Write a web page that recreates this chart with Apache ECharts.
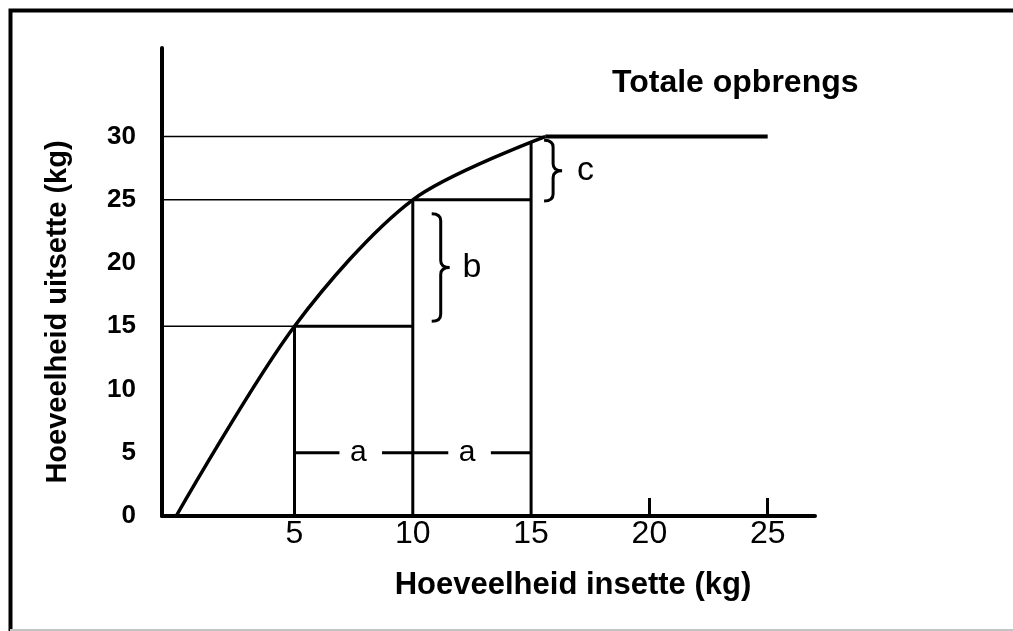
<!DOCTYPE html>
<html>
<head>
<meta charset="utf-8">
<title>Totale opbrengs</title>
<script src="https://cdn.jsdelivr.net/npm/echarts@6.0.0/dist/echarts.min.js"></script>
<style>
  html, body { margin: 0; padding: 0; background: #fff; }
  #chart { width: 1013px; height: 631px; }
</style>
</head>
<body>
<div id="chart"></div>
<script>
// total product curve: input (kg) -> output (kg)
const curveX = [0, 5, 10, 15.6]
const curveY = [0, 15, 25, 30]
const plateauX = [15.6, 25]
const plateauY = [30, 30]

// tick labels
const xTickLabels = [5, 10, 15, 20, 25]
const xTickMarks = [20, 25]
const yTickLabels = [0, 5, 10, 15, 20, 25, 30]

// thin guides from the y axis to the curve
const guideLevels = [15, 25, 30]
const guideEnds = [5, 10, 15.6]

// the steps: drops to the x axis and the shelves between them
const dropX = [5, 10, 15]
const dropTop = [15, 25, 29.6]
const shelfFrom = [5, 10]
const shelfTo = [10, 15]
const shelfLevel = [15, 25]

// equal input steps "a"
const stepLevel = 5
const stepSegFrom = [5, 8.7, 13.3]
const stepSegTo = [6.9, 11.5, 15]
const stepLabelX = [7.7, 12.3]
const stepLabels = ['a', 'a']

// output gains "b" and "c"
const braceX = [10.8, 15.55]
const braceLow = [15.4, 24.9]
const braceHigh = [23.9, 29.7]
const braceLabelX = [12.5, 17.3]
const braceLabelY = [19.6, 27.3]
const braceLabels = ['b', 'c']

const X_MIN = -0.6
const FONT = '"Liberation Sans", Arial, sans-serif'

const seg = (points, width) => ({
  type: 'line',
  data: points,
  symbol: 'none',
  silent: true,
  lineStyle: { color: '#000', width: width, cap: 'butt' }
})

const renderBrace = (params, api) => {
  const top = api.coord([api.value(0), api.value(2)])
  const bot = api.coord([api.value(0), api.value(1)])
  const x0 = top[0], y1 = top[1], y2 = bot[1]
  const w = 18, r = 7
  const xm = x0 + w / 2
  const mid = (y1 + y2) / 2
  return {
    type: 'path',
    shape: {
      pathData: `M${x0},${y1} Q${xm},${y1} ${xm},${y1 + r} L${xm},${mid - r} ` +
        `Q${xm},${mid} ${x0 + w},${mid} Q${xm},${mid} ${xm},${mid + r} ` +
        `L${xm},${y2 - r} Q${xm},${y2} ${x0},${y2}`
    },
    style: { fill: 'none', stroke: '#000', lineWidth: 3 }
  }
}

const renderLetter = (labels, size) => (params, api) => {
  const p = api.coord([api.value(0), api.value(1)])
  return {
    type: 'text',
    x: p[0],
    y: p[1],
    style: {
      text: labels[params.dataIndex],
      fontSize: size,
      fontFamily: FONT,
      fill: '#000',
      align: 'center',
      verticalAlign: 'middle'
    }
  }
}

const series = [
  Object.assign(seg(curveX.map((x, i) => [x, curveY[i]]), 3.5), { smooth: 0.3 }),
  seg(plateauX.map((x, i) => [x, plateauY[i]]), 4),
  ...guideLevels.map((y, i) => seg([[X_MIN, y], [guideEnds[i], y]], 1.5)),
  ...dropX.map((x, i) => seg([[x, 0], [x, dropTop[i]]], 3)),
  ...shelfLevel.map((y, i) => seg([[shelfFrom[i], y], [shelfTo[i], y]], 3)),
  ...stepSegFrom.map((x, i) => seg([[x, stepLevel], [stepSegTo[i], stepLevel]], 3)),
  {
    type: 'custom',
    silent: true,
    renderItem: renderBrace,
    encode: { x: 0, y: [1, 2] },
    data: braceX.map((x, i) => [x, braceLow[i], braceHigh[i]])
  },
  {
    type: 'custom',
    silent: true,
    renderItem: renderLetter(stepLabels, 30),
    data: stepLabelX.map(x => [x, stepLevel])
  },
  {
    type: 'custom',
    silent: true,
    renderItem: renderLetter(braceLabels, 34),
    data: braceLabelX.map((x, i) => [x, braceLabelY[i]])
  }
]

const chart = echarts.init(document.getElementById('chart'))
chart.setOption({
  animation: false,
  backgroundColor: '#fff',
  title: {
    text: 'Totale opbrengs',
    left: 612,
    top: 67,
    padding: 0,
    textStyle: { fontSize: 32, fontWeight: 'bold', color: '#000', fontFamily: FONT }
  },
  grid: { left: 162, right: 198, top: 48, bottom: 115, containLabel: false, outerBoundsMode: 'none' },
  xAxis: {
    type: 'value',
    min: X_MIN,
    max: 27,
    name: 'Hoeveelheid insette (kg)',
    nameLocation: 'middle',
    nameGap: 54,
    nameTextStyle: { fontSize: 31, fontWeight: 'bold', color: '#000', fontFamily: FONT, padding: [0, 0, 0, 169] },
    axisLine: { onZero: false, lineStyle: { color: '#000', width: 4 } },
    axisTick: { show: true, inside: true, length: 18, customValues: xTickMarks, lineStyle: { color: '#000', width: 3 } },
    axisLabel: { customValues: xTickLabels, margin: 2, fontSize: 32, color: '#000', fontFamily: FONT },
    splitLine: { show: false }
  },
  yAxis: {
    type: 'value',
    min: 0,
    max: 37,
    name: 'Hoeveelheid uitsette (kg)',
    nameLocation: 'middle',
    nameGap: 90,
    nameTextStyle: { fontSize: 29, fontWeight: 'bold', color: '#000', fontFamily: FONT, padding: [0, 60, 0, 0] },
    axisLine: { show: true, onZero: false, lineStyle: { color: '#000', width: 4 } },
    axisTick: { show: false },
    axisLabel: { customValues: yTickLabels, margin: 26, fontSize: 26, fontWeight: 'bold', color: '#000', fontFamily: FONT },
    splitLine: { show: false }
  },
  graphic: [
    { type: 'polyline', silent: true, shape: { points: [[10.5, 631], [10.5, 10.5], [1013, 10.5]] }, style: { stroke: '#000', lineWidth: 4, fill: null } },
    { type: 'line', silent: true, shape: { x1: 10, y1: 630, x2: 1013, y2: 630 }, style: { stroke: '#c4c4c4', lineWidth: 2 } }
  ],
  series: series
})
</script>
</body>
</html>
